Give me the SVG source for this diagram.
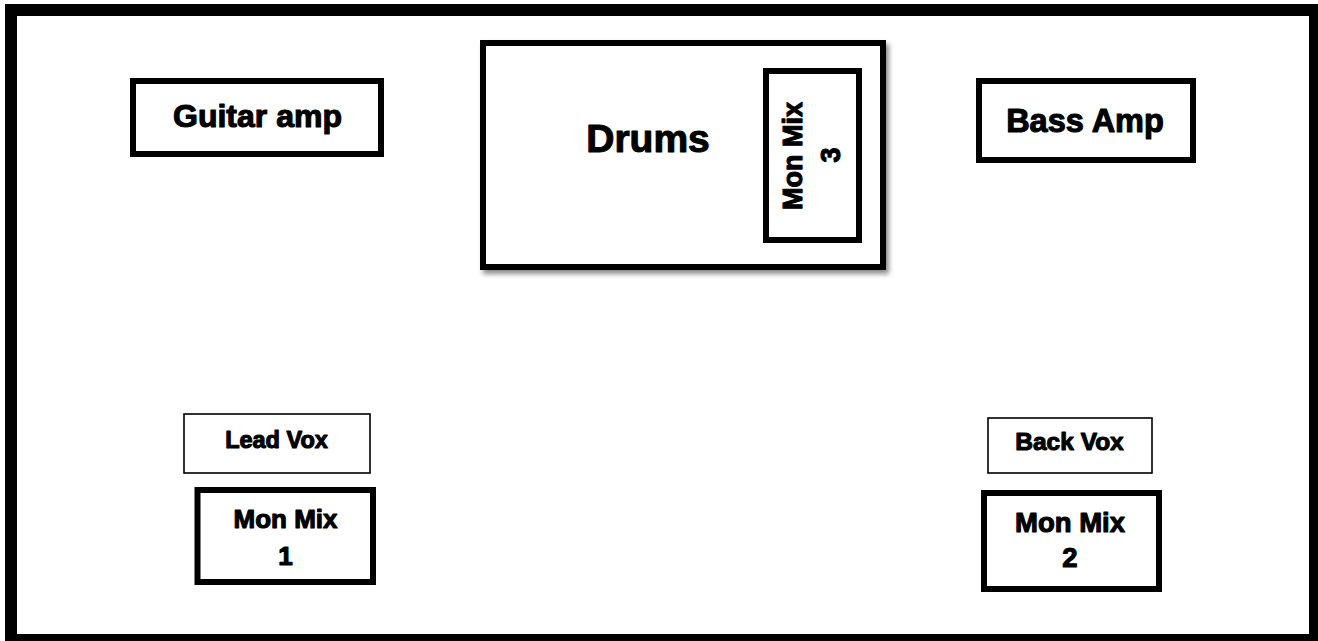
<svg xmlns="http://www.w3.org/2000/svg" width="1318" height="641" viewBox="0 0 1318 641">
<defs>
<style>
.frame{fill:#fff;stroke:#000;stroke-width:12}
.box{fill:#fff;stroke:#000;stroke-width:6}
.thin{fill:#fff;stroke:#000;stroke-width:1.6}
text{font-family:"Liberation Sans",Arial,sans-serif;font-weight:bold;fill:#000;stroke:#000;stroke-width:1.1;stroke-linejoin:round;text-anchor:middle}
</style>
<filter id="shadow" x="-5%" y="-5%" width="115%" height="120%">
<feDropShadow dx="3" dy="4" stdDeviation="2.5" flood-color="#000" flood-opacity="0.45"/>
</filter>
</defs>
<rect width="1318" height="641" fill="#fff"/>
<rect class="frame" x="11" y="10" width="1304" height="630"/>
<g id="guitar-amp">
<rect class="box" x="133" y="81" width="248" height="73"/>
<text x="257.5" y="127" font-size="32">Guitar amp</text>
</g>
<g id="drums">
<rect class="box" x="483" y="43" width="400" height="224" filter="url(#shadow)"/>
<text x="648" y="152" font-size="39">Drums</text>
</g>
<g id="mon-mix-3">
<rect class="box" x="766" y="71" width="93" height="169"/>
<text transform="translate(802,156) rotate(-90)" x="0" y="0" font-size="27">Mon Mix</text>
<text transform="translate(840,155) rotate(-90)" x="0" y="0" font-size="27">3</text>
</g>
<g id="bass-amp">
<rect class="box" x="979" y="81" width="214" height="79"/>
<text x="1085" y="131.5" font-size="32.5">Bass Amp</text>
</g>
<g id="lead-vox">
<rect class="thin" x="184" y="414" width="186" height="59"/>
<text x="276.5" y="448" font-size="23.5">Lead Vox</text>
</g>
<g id="mon-mix-1">
<rect class="box" x="197.5" y="490" width="175.5" height="92"/>
<text x="285.5" y="528" font-size="26">Mon Mix</text>
<text x="285.5" y="565" font-size="26">1</text>
</g>
<g id="back-vox">
<rect class="thin" x="988" y="418" width="164" height="55"/>
<text x="1069.5" y="450" font-size="24.5">Back Vox</text>
</g>
<g id="mon-mix-2">
<rect class="box" x="984" y="493" width="175" height="96"/>
<text x="1070" y="532" font-size="27.5">Mon Mix</text>
<text x="1070" y="567" font-size="27.5">2</text>
</g>
<g id="connectors"/>
</svg>
